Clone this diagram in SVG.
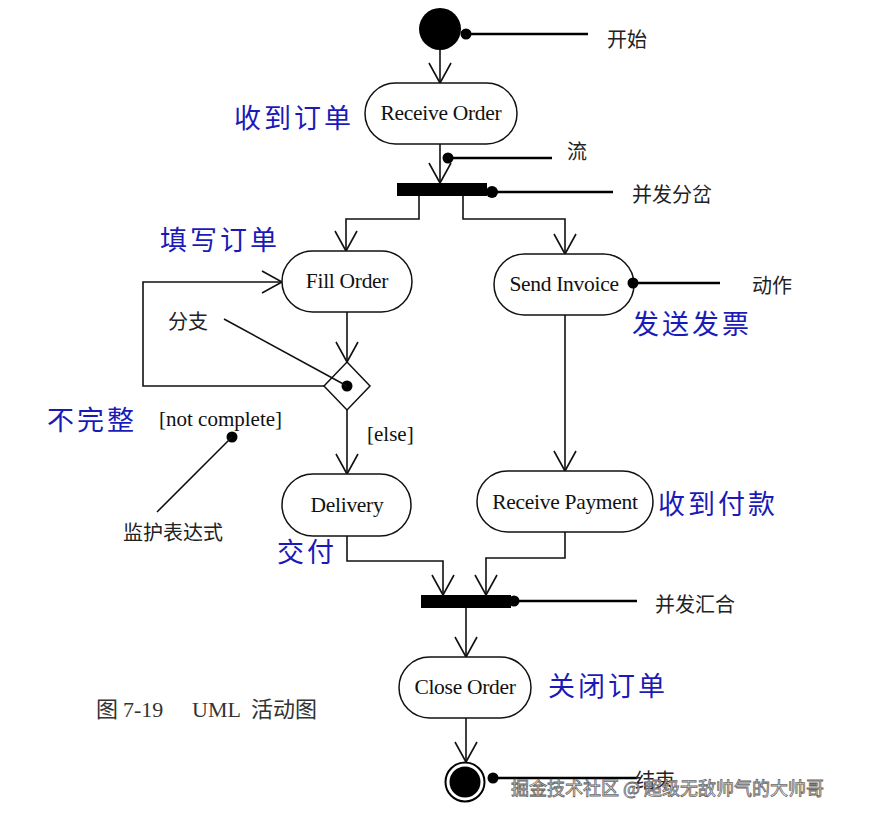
<svg xmlns="http://www.w3.org/2000/svg" width="873" height="819" viewBox="0 0 873 819">
<style>
.node{fill:#fff;stroke:#111;stroke-width:1.5}
.nt{font-family:"Liberation Serif","Times New Roman",serif;font-size:21.5px;fill:#111;text-anchor:middle;dominant-baseline:central;letter-spacing:-0.3px}
.edge{fill:none;stroke:#111;stroke-width:1.6}
.note{fill:none;stroke:#000;stroke-width:2.5}
.lbl{font-family:"Noto Sans CJK SC","Noto Sans",sans-serif;font-size:20px;fill:#222;dominant-baseline:central}
.blue{font-family:"Noto Sans CJK SC","Noto Sans",sans-serif;font-size:27px;fill:#1a1ab8;letter-spacing:3px;dominant-baseline:central}
.guard{font-family:"Liberation Serif","Times New Roman",serif;font-size:21px;fill:#111;dominant-baseline:central}
.cap{font-family:"Liberation Serif","Noto Sans CJK SC",serif;font-size:22px;fill:#333;dominant-baseline:central}
.bar{fill:#000}
</style>
<defs>
<marker id="arr" viewBox="-22 -12 24 24" refX="0" refY="0" markerWidth="24" markerHeight="24" markerUnits="userSpaceOnUse" orient="auto">
<path d="M-20,-11 L0,0 L-20,11" fill="none" stroke="#111" stroke-width="1.6"/>
</marker>
</defs>
<rect width="873" height="819" fill="#fff"/>

<g id="connectors">
<path class="edge" d="M440,50 V83" marker-end="url(#arr)"/>
<path class="edge" d="M440,144 V183" marker-end="url(#arr)"/>
<path class="edge" d="M419,196 V219 H346 V251" marker-end="url(#arr)"/>
<path class="edge" d="M463,196 V219 H565 V254" marker-end="url(#arr)"/>
<path class="edge" d="M347,312 V362" marker-end="url(#arr)"/>
<path class="edge" d="M324,386 H143 V282 H282" marker-end="url(#arr)" stroke-width="2.2"/>
<path class="edge" d="M347,410 V474" marker-end="url(#arr)"/>
<path class="edge" d="M565,315 V471" marker-end="url(#arr)"/>
<path class="edge" d="M347,536 V561 H443 V595" marker-end="url(#arr)"/>
<path class="edge" d="M565,532 V558 H486 V595" marker-end="url(#arr)"/>
<path class="edge" d="M466,608 V657" marker-end="url(#arr)"/>
<path class="edge" d="M466,718 V762" marker-end="url(#arr)"/>
</g>

<g id="start">
<circle cx="440" cy="29" r="21" fill="#000"/>
</g>
<g id="receive-order">
<rect class="node" x="365" y="83" width="152" height="61" rx="30.5"/>
<text class="nt" x="441" y="113">Receive Order</text>
</g>
<g id="fork">
<rect class="bar" x="397" y="183" width="90" height="13"/>
</g>
<g id="fill-order">
<rect class="node" x="282" y="251" width="130" height="61" rx="30.5"/>
<text class="nt" x="347" y="281">Fill Order</text>
</g>
<g id="send-invoice">
<rect class="node" x="494" y="254" width="140" height="61" rx="30.5"/>
<text class="nt" x="564" y="284">Send Invoice</text>
</g>
<g id="decision">
<polygon class="node" points="347,362 370,386 347,410 324,386"/>
</g>
<g id="delivery">
<rect class="node" x="282" y="474" width="129" height="62" rx="31"/>
<text class="nt" x="347" y="505">Delivery</text>
</g>
<g id="receive-payment">
<rect class="node" x="477" y="471" width="176" height="61" rx="30.5"/>
<text class="nt" x="565" y="502">Receive Payment</text>
</g>
<g id="join">
<rect class="bar" x="421" y="595" width="90" height="13"/>
</g>
<g id="close-order">
<rect class="node" x="399" y="657" width="132" height="61" rx="30.5"/>
<text class="nt" x="465" y="687">Close Order</text>
</g>
<g id="end">
<circle cx="465" cy="782" r="19.5" fill="#fff" stroke="#000" stroke-width="2"/>
<circle cx="465" cy="782" r="15.5" fill="#000"/>
</g>

<g id="annotations">
<circle cx="466" cy="34" r="5.5"/>
<path class="note" d="M466,34 H588"/>
<text class="lbl" x="607" y="38">开始</text>
<circle cx="448" cy="158" r="5.5"/>
<path class="note" d="M448,158 H552"/>
<text class="lbl" x="567" y="150">流</text>
<circle cx="492" cy="192" r="6"/>
<path class="note" d="M492,192 H613"/>
<text class="lbl" x="632" y="193">并发分岔</text>
<circle cx="633" cy="283" r="5.5"/>
<path class="note" d="M633,283 H720"/>
<text class="lbl" x="752" y="284">动作</text>
<circle cx="347" cy="386" r="5.5"/>
<path class="edge" d="M347,386 L224,319" stroke-width="2"/>
<text class="lbl" x="168" y="320">分支</text>
<text class="guard" x="159" y="419">[not complete]</text>
<circle cx="232" cy="437" r="5.5"/>
<path class="edge" d="M232,437 L157,512" stroke-width="2"/>
<text class="lbl" x="123" y="531">监护表达式</text>
<text class="guard" x="367" y="434">[else]</text>
<circle cx="514" cy="601" r="5.5"/>
<path class="note" d="M514,601 H637"/>
<text class="lbl" x="655" y="603">并发汇合</text>
<circle cx="493" cy="778" r="5.5"/>
<path class="note" d="M493,778 H637"/>
<text class="lbl" x="635" y="779">结束</text>
</g>

<g id="labels">
<text class="blue" x="234" y="116">收到订单</text>
<text class="blue" x="160" y="238">填写订单</text>
<text class="blue" x="632" y="322">发送发票</text>
<text class="blue" x="47" y="418">不完整</text>
<text class="blue" x="658" y="502">收到付款</text>
<text class="blue" x="277" y="550">交付</text>
<text class="blue" x="548" y="684">关闭订单</text>
<text class="cap" y="709"><tspan x="96">图</tspan><tspan x="123">7-19</tspan><tspan x="192">UML</tspan><tspan x="251">活动图</tspan></text>
<text x="511" y="787" style="font-family:'Noto Sans CJK SC',sans-serif;font-size:18px;fill:#fff;stroke:#666;stroke-width:0.8;dominant-baseline:central">掘金技术社区 @ 超级无敌帅气的大帅哥</text>
</g>
</svg>
